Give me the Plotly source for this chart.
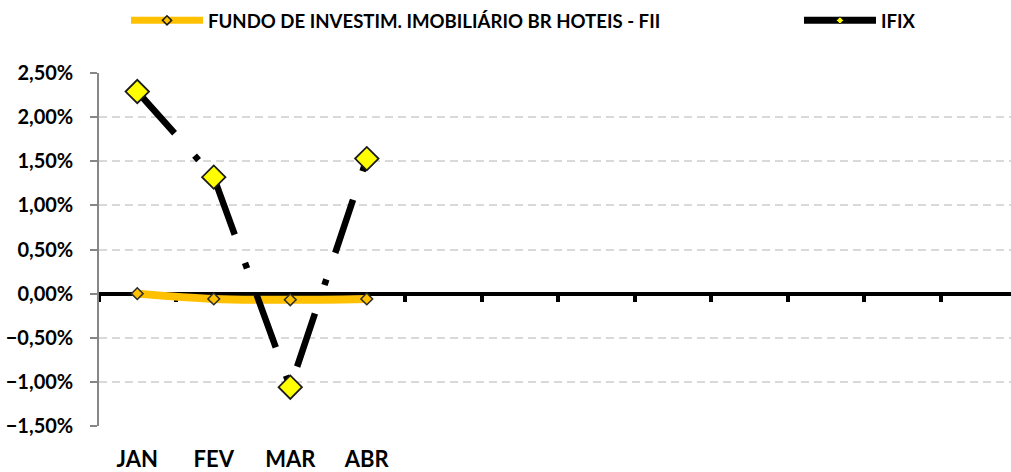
import plotly.graph_objects as go

# Monthly returns (%) — fund vs. IFIX benchmark
months = ["JAN", "FEV", "MAR", "ABR"]
n_months = 12
fund_name = "FUNDO DE INVESTIM. IMOBILIÁRIO BR HOTEIS - FII"
fund_returns = [0.00, -0.06, -0.07, -0.06]
ifix_name = "IFIX"
ifix_returns = [2.29, 1.32, -1.06, 1.53]

x_pos = list(range(len(months)))
boundaries = [i - 0.5 for i in range(n_months + 1)]
y_range = [-1.5, 2.5]
x_range = [-0.5, 11.42]

FONT = "Lato, 'Open Sans', Arial, sans-serif"
FUND_COLOR = "#FFC000"
IFIX_COLOR = "#000000"

fig = go.Figure()

# Series drawn on the chart
fig.add_trace(go.Scatter(
    x=x_pos, y=fund_returns, name=fund_name, showlegend=False,
    mode="lines+markers",
    line=dict(color=FUND_COLOR, width=8, shape="spline"),
    marker=dict(symbol="diamond", size=9, color=FUND_COLOR,
                line=dict(color="#2b2b2b", width=1.5)),
))

fig.add_trace(go.Scatter(
    x=x_pos, y=ifix_returns, name=ifix_name, xaxis="x2", showlegend=False,
    mode="lines+markers",
    line=dict(color=IFIX_COLOR, width=6.5, dash="56px,30px,6px,28px"),
    marker=dict(symbol="diamond", size=18, color="#FFFF00",
                line=dict(color="#1a1a1a", width=1.8)),
))

# Legend keys (solid line with a small marker)
fig.add_trace(go.Scatter(
    x=[None], y=[None], name=fund_name, legendwidth=586,
    mode="lines+markers",
    line=dict(color=FUND_COLOR, width=7),
    marker=dict(symbol="diamond", size=7, color=FUND_COLOR,
                line=dict(color="#1a1a1a", width=1.5)),
))
fig.add_trace(go.Scatter(
    x=[None], y=[None], name=ifix_name, legendwidth=40,
    mode="lines+markers",
    line=dict(color=IFIX_COLOR, width=7),
    marker=dict(symbol="diamond", size=5.5, color="#FFFF00",
                line=dict(color="#1a1a1a", width=1)),
))

zero_pos = (0 - y_range[0]) / (y_range[1] - y_range[0])

fig.update_layout(
    width=1011, height=472,
    margin=dict(l=99, r=0, t=73, b=46),
    paper_bgcolor="white", plot_bgcolor="white",
    separators=",.",
    font=dict(family=FONT, color="#000000", weight=700),
    showlegend=True,
    legend=dict(
        orientation="h", x=0.0296, xanchor="left", y=1.148, yanchor="middle",
        font=dict(family=FONT, size=18.6, weight=700, color="#000000"),
        itemwidth=72,
        bgcolor="rgba(0,0,0,0)",
    ),
    xaxis=dict(
        range=x_range, tickmode="array", tickvals=x_pos, ticktext=months,
        showline=False, showgrid=False, zeroline=False, ticks="",
        tickfont=dict(family=FONT, size=22, weight=700),
        ticklabelstandoff=18,
    ),
    xaxis2=dict(
        overlaying="x", anchor="free", position=zero_pos, side="bottom",
        range=x_range, tickmode="array", tickvals=boundaries,
        showticklabels=False, showgrid=False, zeroline=False,
        showline=True, linecolor="#000000", linewidth=4,
        ticks="outside", ticklen=6, tickwidth=4, tickcolor="#000000",
        layer="below traces",
    ),
    yaxis=dict(
        range=y_range, dtick=0.5, tick0=0, tickformat=".2f", ticksuffix="%",
        showline=True, linecolor="#868686", linewidth=1.5,
        ticks="outside", ticklen=7, tickwidth=1.5, tickcolor="#868686",
        showgrid=True, gridcolor="#d9d9d9", gridwidth=1.5, griddash="8px,5px",
        zeroline=False,
        tickfont=dict(family=FONT, size=20, weight=700),
        ticklabelstandoff=13,
    ),
)

fig.write_html("out.html")
